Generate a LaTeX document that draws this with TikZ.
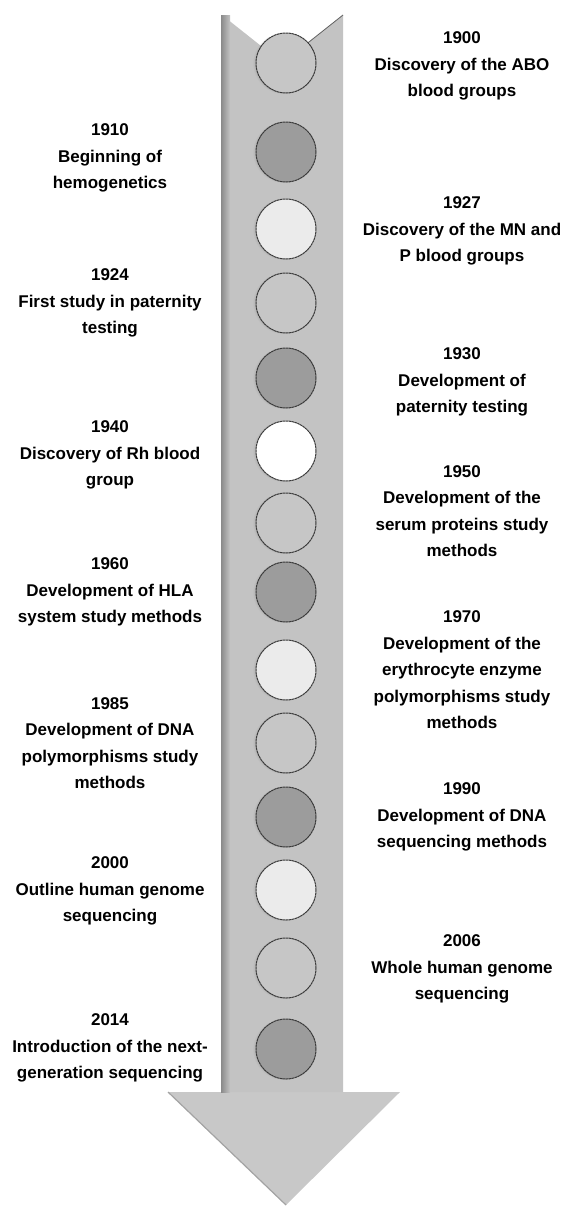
\documentclass[tikz,border=0pt]{standalone}
\usepackage{fontspec}
\setmainfont{Liberation Sans}
\usetikzlibrary{shadows}
\definecolor{shaftc}{HTML}{C3C3C3}
\definecolor{headc}{HTML}{C8C8C8}
\definecolor{shadowc}{HTML}{8A8A8A}
\definecolor{clight}{HTML}{C6C6C6}
\definecolor{cdark}{HTML}{9C9C9C}
\definecolor{cvlight}{HTML}{EBEBEB}
\definecolor{cedge}{HTML}{383838}
\tikzset{
  dot/.style={circle, minimum size=60pt, inner sep=0pt, draw=cedge, line width=1pt,
    dash pattern=on 2.5pt off 0.5pt,
    circular drop shadow={shadow xshift=-2.5pt, shadow yshift=0pt, opacity=0.4, shadow scale=1.03}},
  lbl/.style={align=center, inner sep=0pt, font=\fontsize{17}{26.5}\selectfont\bfseries}
}
\begin{document}
\begin{tikzpicture}[x=1pt,y=-1pt]
\useasboundingbox (0,0) rectangle (564,1208);
% arrow body
\fill[headc] (343,1092) -- (400,1092) -- (286,1205) -- (168,1092) -- (222,1092) -- cycle;
\draw[shadowc!60!headc, line width=1.2pt] (168,1092) -- (286,1205);
\fill[shaftc] (222,15) -- (282.5,63) -- (343,15) -- (343,1092) -- (222,1092) -- cycle;
\shade[left color=shadowc, right color=shaftc] (221,15) rectangle (230,1092);
\draw[shadowc!70!black, line width=0.8pt] (343,15) -- (282.5,63);
% circles
\node[dot, fill=clight]  (c1)  at (286,63)   {};
\node[dot, fill=cdark]   (c2)  at (286,152)  {};
\node[dot, fill=cvlight] (c3)  at (286,229)  {};
\node[dot, fill=clight]  (c4)  at (286,303)  {};
\node[dot, fill=cdark]   (c5)  at (286,378)  {};
\node[dot, fill=white]   (c6)  at (286,451)  {};
\node[dot, fill=clight]  (c7)  at (286,523)  {};
\node[dot, fill=cdark]   (c8)  at (286,592)  {};
\node[dot, fill=cvlight] (c9)  at (286,670)  {};
\node[dot, fill=clight]  (c10) at (286,743)  {};
\node[dot, fill=cdark]   (c11) at (286,817)  {};
\node[dot, fill=cvlight] (c12) at (286,890)  {};
\node[dot, fill=clight]  (c13) at (286,968)  {};
\node[dot, fill=cdark]   (c14) at (286,1049) {};
% right labels
\node[lbl] (t1900) at (462,66)  {1900\\Discovery of the ABO\\blood groups};
\node[lbl] (t1927) at (462,231) {1927\\Discovery of the MN and\\P blood groups};
\node[lbl] (t1930) at (462,382) {1930\\Development of\\paternity testing};
\node[lbl] (t1950) at (462,511) {1950\\Development of the\\serum proteins study\\methods};
\node[lbl] (t1970) at (462,670) {1970\\Development of the\\erythrocyte enzyme\\polymorphisms study\\methods};
\node[lbl] (t1990) at (462,817) {1990\\Development of DNA\\sequencing methods};
\node[lbl] (t2006) at (462,969) {2006\\Whole human genome\\sequencing};
% left labels
\node[lbl] (t1910) at (110,158)  {1910\\Beginning of\\hemogenetics};
\node[lbl] (t1924) at (110,303)  {1924\\First study in paternity\\testing};
\node[lbl] (t1940) at (110,455)  {1940\\Discovery of Rh blood\\group};
\node[lbl] (t1960) at (110,592)  {1960\\Development of HLA\\system study methods};
\node[lbl] (t1985) at (110,743)  {1985\\Development of DNA\\polymorphisms study\\methods};
\node[lbl] (t2000) at (110,891)  {2000\\Outline human genome\\sequencing};
\node[lbl] (t2014) at (110,1048) {2014\\Introduction of the next-\\generation sequencing};
\end{tikzpicture}
\end{document}
